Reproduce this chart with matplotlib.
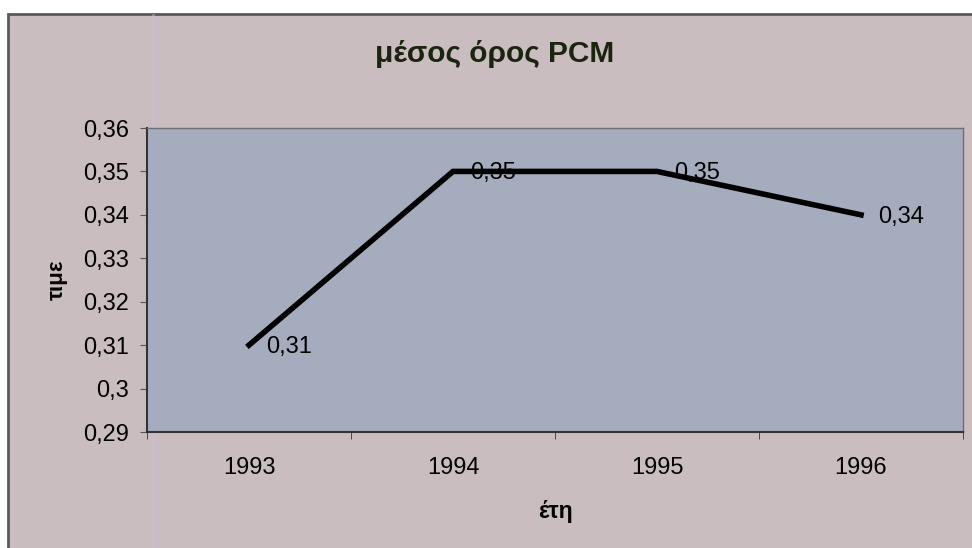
import matplotlib
matplotlib.use("Agg")
import matplotlib.pyplot as plt
from matplotlib.patches import Rectangle
from matplotlib.lines import Line2D

# data
years = ["1993", "1994", "1995", "1996"]
values = [0.31, 0.35, 0.35, 0.34]
labels = ["0,31", "0,35", "0,35", "0,34"]
yticks = [0.29, 0.30, 0.31, 0.32, 0.33, 0.34, 0.35, 0.36]
ytick_labels = ["0,29", "0,3", "0,31", "0,32", "0,33", "0,34", "0,35", "0,36"]

plt.rcParams['font.family'] = ['Liberation Sans', 'DejaVu Sans']

fig = plt.figure(figsize=(9.72, 5.48), dpi=100, facecolor="white")

# chart area frame (pinkish grey) with dark border
bg = Rectangle((8/972, -0.05), 1.0, 1 - 14/548 + 0.05, transform=fig.transFigure,
               facecolor="#cabdc0", edgecolor="#5a5a5a", linewidth=2, zorder=-10)
fig.patches.append(bg)
# faint light stripe from the scan
fig.lines.append(Line2D([153/972, 153/972], [0, 1 - 15/548], transform=fig.transFigure,
                        color="#c6c2da", linewidth=2, alpha=0.45, zorder=-9))

ax = fig.add_axes([147/972, 116/548, (963-147)/972, (432-128)/548])
ax.set_facecolor("#a4acbd")

x = list(range(len(years)))
ax.plot(x, values, color="black", linewidth=4, solid_joinstyle="miter", zorder=3)
for xi, v, lab in zip(x, values, labels):
    ax.text(xi + 0.085, v - 0.0004, lab, fontsize=17, color="black",
            va="center", ha="left", zorder=4)

ax.set_xlim(-0.5, len(years) - 0.5)
ax.set_ylim(0.29, 0.36)
ax.set_yticks(yticks)
ax.set_yticklabels(ytick_labels, fontsize=17)
ax.set_xticks(x)
ax.set_xticklabels(years, fontsize=17)
ax.set_xticks([i - 0.5 for i in range(len(years) + 1)], minor=True)
ax.tick_params(axis="x", which="major", length=0, pad=18)
ax.tick_params(axis="x", which="minor", length=5, direction="out", color="#333333")
ax.tick_params(axis="y", length=5, direction="out", color="#555555", pad=8)

for s in ["left", "bottom"]:
    ax.spines[s].set_color("#333333")
    ax.spines[s].set_linewidth(1.5)
for s in ["top", "right"]:
    ax.spines[s].set_color("#6e6e76")
    ax.spines[s].set_linewidth(1)

ax.set_xlabel("έτη", fontsize=16.5, fontweight="bold", labelpad=15)
ax.set_ylabel("τιμε", fontsize=16, fontweight="bold", labelpad=11)
fig.text(495/972, 1 - 54/548, "μέσος όρος PCM", fontsize=21.5, fontweight="bold",
         ha="center", va="center", color="#1a240e")

fig.savefig("out.png", dpi=100, facecolor=fig.get_facecolor())
